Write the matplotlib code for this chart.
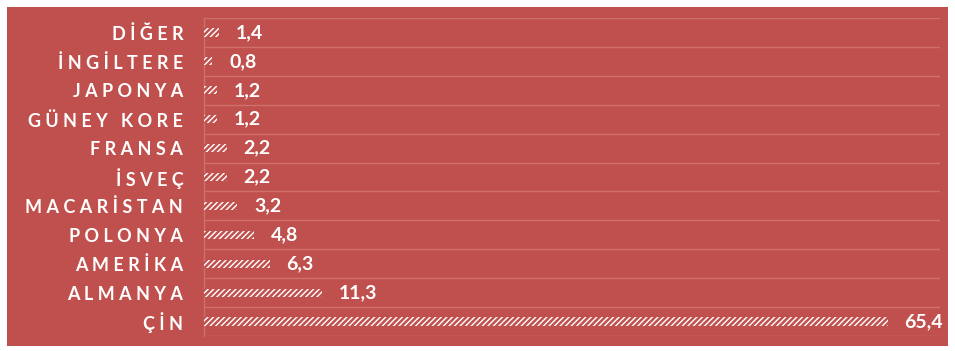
import matplotlib.pyplot as plt
from matplotlib.patches import Rectangle

countries = ['ÇİN', 'ALMANYA', 'AMERİKA', 'POLONYA', 'MACARİSTAN', 'İSVEÇ',
             'FRANSA', 'GÜNEY KORE', 'JAPONYA', 'İNGİLTERE', 'DİĞER']
values = [65.4, 11.3, 6.3, 4.8, 3.2, 2.2, 2.2, 1.2, 1.2, 0.8, 1.4]
value_labels = ['65,4', '11,3', '6,3', '4,8', '3,2', '2,2', '2,2', '1,2', '1,2', '0,8', '1,4']

bg = '#C0504D'
grid_c = '#CE716E'

plt.rcParams['hatch.linewidth'] = 1.8

fig = plt.figure(figsize=(9.55, 3.51), dpi=100, facecolor='white')
fig.patches.append(Rectangle((7 / 955, 5 / 351), 941 / 955, 339 / 351,
                             transform=fig.transFigure, facecolor=bg,
                             edgecolor='none', zorder=-10))
ax = fig.add_axes([204 / 955, 15 / 351, 736 / 955, 318 / 351])
ax.set_facecolor('none')

y = list(range(len(countries)))
ax.barh(y, values, height=0.28, facecolor='white', edgecolor=bg,
        hatch='//////', linewidth=0, zorder=3)

for yi, v, lab in zip(y, values, value_labels):
    ax.text(v + 1.6, yi, lab, color='white', fontsize=14, fontweight='bold',
            family='Lato', va='center', ha='left')

ax.set_xlim(0, 70.4)
ax.set_ylim(-0.5, len(countries) - 0.5)
ax.set_yticks(y)
ax.set_yticklabels([' '.join(c) for c in countries],
                   color='white', fontsize=13, fontweight='bold', family='Lato')
ax.tick_params(axis='y', length=0, pad=15)
ax.set_xticks([])

for b in [i - 0.5 for i in range(len(countries) + 1)]:
    ax.axhline(b, color=grid_c, linewidth=1, zorder=1)

for s in ['top', 'right', 'bottom']:
    ax.spines[s].set_visible(False)
ax.spines['left'].set_color(grid_c)
ax.spines['left'].set_linewidth(1)

fig.savefig('out.png', dpi=100, facecolor='white')
